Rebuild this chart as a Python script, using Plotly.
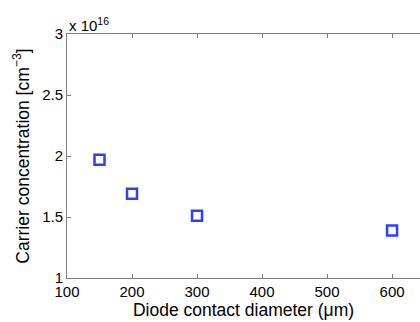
import plotly.graph_objects as go

diameters = [150, 200, 300, 600]
concentration = [1.97, 1.69, 1.51, 1.39]  # x 1e16 cm^-3

x_ticks = [100, 200, 300, 400, 500, 600]
y_ticks = [1, 1.5, 2, 2.5, 3]
y_ticklabels = ["1", "1.5", "2", "2.5", "3"]

fam = "Liberation Sans, Arial, sans-serif"
tickfont = dict(family=fam, size=15, color="#000")
titlefont = dict(family=fam, size=17.5, color="#000")

fig = go.Figure()
fig.add_trace(go.Scatter(
    x=diameters, y=concentration, mode="markers",
    marker=dict(symbol="square-open", size=10, color="#2f3fff",
                line=dict(width=2.5, color="#2f3fff")),
    showlegend=False,
))

fig.update_layout(
    width=420, height=322,
    margin=dict(l=67, r=0, t=34, b=44),
    plot_bgcolor="white", paper_bgcolor="white",
    font=tickfont,
    xaxis=dict(range=[100, 643], tickvals=x_ticks, ticks="inside", ticklen=4,
               tickcolor="#808080", showline=True, linecolor="#808080", linewidth=1,
               mirror="ticks", showgrid=False, zeroline=False, tickfont=tickfont,
               title=dict(text="Diode contact diameter (μm)", standoff=1, font=titlefont)),
    yaxis=dict(range=[1, 3], tickvals=y_ticks, ticktext=y_ticklabels, ticks="inside",
               ticklen=4, tickcolor="#808080", showline=True, linecolor="#808080",
               linewidth=1, mirror=False, showgrid=False, zeroline=False, tickfont=tickfont,
               title=dict(text="Carrier concentration [cm<sup>−3</sup>]", standoff=8,
                          font=titlefont)),
)
fig.add_annotation(text="x 10<sup>16</sup>", xref="paper", yref="paper",
                   x=0, y=1, xanchor="left", yanchor="bottom", showarrow=False,
                   font=tickfont, xshift=0, yshift=-2)

fig.write_html("out.html", config={"displayModeBar": False},
               post_script="document.body.style.margin='0';document.body.style.overflow='hidden';")
